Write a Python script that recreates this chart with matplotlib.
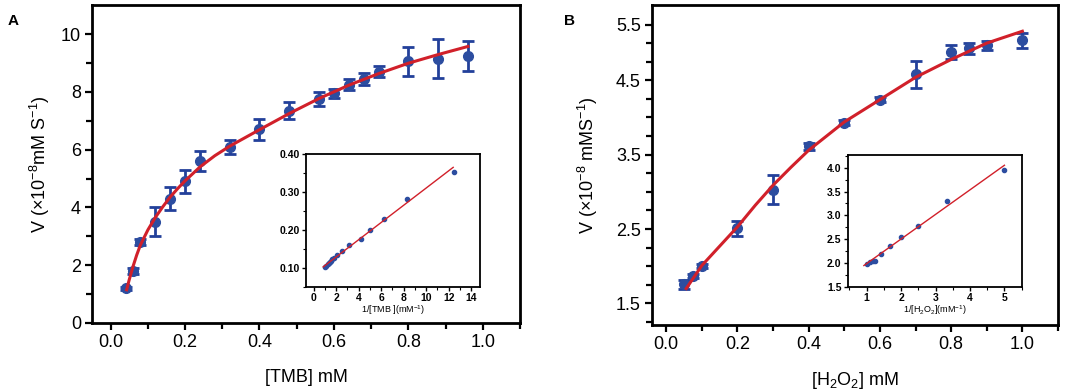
import numpy as np
import matplotlib
matplotlib.use('Agg')
import matplotlib.pyplot as plt
from matplotlib.ticker import MultipleLocator, FixedLocator

plt.rcParams['font.family'] = ['Liberation Sans', 'DejaVu Sans']
plt.rcParams['mathtext.default'] = 'regular'

# ---- panel A : TMB ----
tmb_x = [0.04, 0.06, 0.08, 0.12, 0.16, 0.20, 0.24, 0.32, 0.40, 0.48, 0.56, 0.60,
         0.64, 0.68, 0.72, 0.80, 0.88, 0.96]
tmb_v = [1.2, 1.8, 2.8, 3.5, 4.3, 4.9, 5.6, 6.1, 6.7, 7.35, 7.75, 7.95,
         8.25, 8.45, 8.7, 9.05, 9.15, 9.25]
tmb_err = [0.05, 0.1, 0.1, 0.5, 0.4, 0.4, 0.35, 0.25, 0.35, 0.3, 0.25, 0.15,
           0.2, 0.2, 0.2, 0.5, 0.68, 0.52]
tmb_fit_x = [0.043, 0.05, 0.06, 0.07, 0.08, 0.10, 0.12, 0.14, 0.16, 0.18, 0.20, 0.24,
             0.28, 0.32, 0.40, 0.48, 0.56, 0.64, 0.72, 0.80, 0.88, 0.96]
tmb_fit_v = [1.15, 1.5, 1.95, 2.35, 2.7, 3.22, 3.65, 4.02, 4.36, 4.65, 4.92, 5.40,
             5.79, 6.12, 6.69, 7.25, 7.77, 8.23, 8.63, 8.99, 9.29, 9.57]

# inset A : Lineweaver-Burk
tmb_inv_x = [1.04, 1.14, 1.25, 1.39, 1.47, 1.56, 1.67, 1.79, 2.08, 2.5, 3.125,
             4.17, 5.0, 6.25, 8.33, 12.5]
tmb_inv_y = [0.104, 0.106, 0.110, 0.113, 0.116, 0.119, 0.123, 0.126, 0.134, 0.146,
             0.161, 0.176, 0.200, 0.230, 0.283, 0.352]
tmb_lin_x = [0.85, 12.4]
tmb_lin_y = [0.103, 0.365]

# ---- panel B : H2O2 ----
h2o2_x = [0.05, 0.075, 0.1, 0.2, 0.3, 0.4, 0.5, 0.6, 0.7, 0.8, 0.85, 0.9, 1.0]
h2o2_v = [1.76, 1.87, 2.0, 2.51, 3.03, 3.61, 3.93, 4.24, 4.58, 4.88, 4.93, 4.97, 5.04]
h2o2_err = [0.06, 0.03, 0.03, 0.1, 0.19, 0.05, 0.03, 0.03, 0.18, 0.1, 0.07, 0.06, 0.1]
h2o2_fit_x = [0.056, 0.1, 0.15, 0.2, 0.25, 0.3, 0.35, 0.4, 0.5, 0.6, 0.7, 0.8, 0.9, 1.0]
h2o2_fit_v = [1.70, 2.01, 2.27, 2.53, 2.82, 3.09, 3.33, 3.56, 3.94, 4.24, 4.54, 4.78, 5.0, 5.16]

# inset B
h2o2_inv_x = [1.0, 1.11, 1.18, 1.25, 1.43, 1.67, 2.0, 2.5, 3.33, 5.0]
h2o2_inv_y = [1.98, 2.02, 2.04, 2.05, 2.19, 2.35, 2.55, 2.77, 3.30, 3.95]
h2o2_lin_x = [0.92, 5.0]
h2o2_lin_y = [1.95, 4.05]

# y tick labels of panel B as printed
b_ytick_pos = [1.5, 2.5, 3.5, 4.5, 5.25]
b_ytick_lab = ['1.5', '2.5', '3.5', '4.5', '5.5']

blue = '#2c4da0'
eblue = '#22409a'
red = '#d1202a'

fig = plt.figure(figsize=(10.84, 3.90), dpi=100)


def style_main(ax):
    for s in ax.spines.values():
        s.set_linewidth(2.0)
    ax.tick_params(which='major', direction='out', length=5, width=1.6,
                   labelsize=13, pad=3)
    ax.tick_params(which='minor', direction='out', length=4, width=1.6)


def style_inset(ax):
    for s in ax.spines.values():
        s.set_linewidth(1.3)
    ax.tick_params(which='major', direction='out', length=3, width=1.0,
                   labelsize=7.5, pad=1.5)
    ax.tick_params(which='minor', direction='out', length=2, width=0.8)
    for lab in ax.get_xticklabels() + ax.get_yticklabels():
        lab.set_fontweight('bold')


# ---------- A ----------
axA = fig.add_axes([0.0849, 0.1718, 0.3948, 0.815])
axA.plot(tmb_fit_x, tmb_fit_v, color=red, lw=2.2, zorder=3)
axA.errorbar(tmb_x, tmb_v, yerr=tmb_err, fmt='o', color=blue, ecolor=eblue,
             ms=7, elinewidth=2.0, capsize=4, capthick=2.0, zorder=2)
axA.set_xlim(-0.05, 1.1)
axA.set_ylim(0, 11)
axA.xaxis.set_major_locator(MultipleLocator(0.2))
axA.xaxis.set_minor_locator(MultipleLocator(0.1))
axA.yaxis.set_major_locator(FixedLocator([0, 2, 4, 6, 8, 10]))
axA.yaxis.set_minor_locator(FixedLocator([1, 3, 5, 7, 9]))
axA.xaxis.set_major_formatter(plt.FuncFormatter(lambda v, p: '%.1f' % v))
style_main(axA)
axA.set_xlabel('[TMB] mM', fontsize=13)
axA.set_ylabel('V (×10$^{-8}$mM S$^{-1}$)', fontsize=13)
axA.xaxis.set_label_coords(0.5, -0.145)
axA.yaxis.set_label_coords(-0.093, 0.5)
fig.text(0.007, 0.935, 'A', fontsize=11, fontweight='bold')

insA = fig.add_axes([0.282, 0.264, 0.161, 0.341])
insA.plot(tmb_inv_x, tmb_inv_y, 'o', color=blue, ms=3, zorder=2)
insA.plot(tmb_lin_x, tmb_lin_y, color=red, lw=1.0, zorder=3)
insA.set_xlim(-0.7, 14.8)
insA.set_ylim(0.05, 0.40)
insA.xaxis.set_major_locator(MultipleLocator(2))
insA.xaxis.set_minor_locator(MultipleLocator(1))
insA.yaxis.set_major_locator(FixedLocator([0.10, 0.20, 0.30, 0.40]))
insA.yaxis.set_minor_locator(FixedLocator([0.05, 0.15, 0.25, 0.35]))
insA.yaxis.set_major_formatter(plt.FuncFormatter(lambda v, p: '%.2f' % v))
style_inset(insA)
insA.set_xlabel('1/[TMB ](mM$^{-1}$)', fontsize=6.5, labelpad=0)

# ---------- B ----------
axB = fig.add_axes([0.6015, 0.1667, 0.3745, 0.820])
axB.plot(h2o2_fit_x, h2o2_fit_v, color=red, lw=2.2, zorder=3)
axB.errorbar(h2o2_x, h2o2_v, yerr=h2o2_err, fmt='o', color=blue, ecolor=eblue,
             ms=7, elinewidth=2.0, capsize=4, capthick=2.0, zorder=2)
axB.set_xlim(-0.04, 1.1)
axB.set_ylim(1.21, 5.51)
axB.xaxis.set_major_locator(MultipleLocator(0.2))
axB.xaxis.set_minor_locator(MultipleLocator(0.1))
axB.xaxis.set_major_formatter(plt.FuncFormatter(lambda v, p: '%.1f' % v))
axB.set_yticks(b_ytick_pos)
axB.set_yticklabels(b_ytick_lab)
axB.yaxis.set_minor_locator(FixedLocator(np.arange(1.25, 5.01, 0.25)))
style_main(axB)
axB.set_xlabel('[H$_2$O$_2$] mM', fontsize=13)
axB.set_ylabel('V (×10$^{-8}$ mMS$^{-1}$)', fontsize=13)
axB.xaxis.set_label_coords(0.5, -0.14)
axB.yaxis.set_label_coords(-0.128, 0.5)
fig.text(0.52, 0.935, 'B', fontsize=11, fontweight='bold')

insB = fig.add_axes([0.782, 0.264, 0.1605, 0.338])
insB.plot(h2o2_inv_x, h2o2_inv_y, 'o', color=blue, ms=3, zorder=2)
insB.plot(h2o2_lin_x, h2o2_lin_y, color=red, lw=1.0, zorder=3)
insB.set_xlim(0.45, 5.5)
insB.set_ylim(1.5, 4.26)
insB.xaxis.set_major_locator(MultipleLocator(1))
insB.xaxis.set_minor_locator(MultipleLocator(0.5))
insB.yaxis.set_major_locator(MultipleLocator(0.5))
insB.yaxis.set_minor_locator(MultipleLocator(0.25))
insB.yaxis.set_major_formatter(plt.FuncFormatter(lambda v, p: '%.1f' % v))
style_inset(insB)
insB.set_xlabel('1/[H$_2$O$_2$](mM$^{-1}$)', fontsize=6.5, labelpad=0)

fig.savefig('out.png', dpi=100)
